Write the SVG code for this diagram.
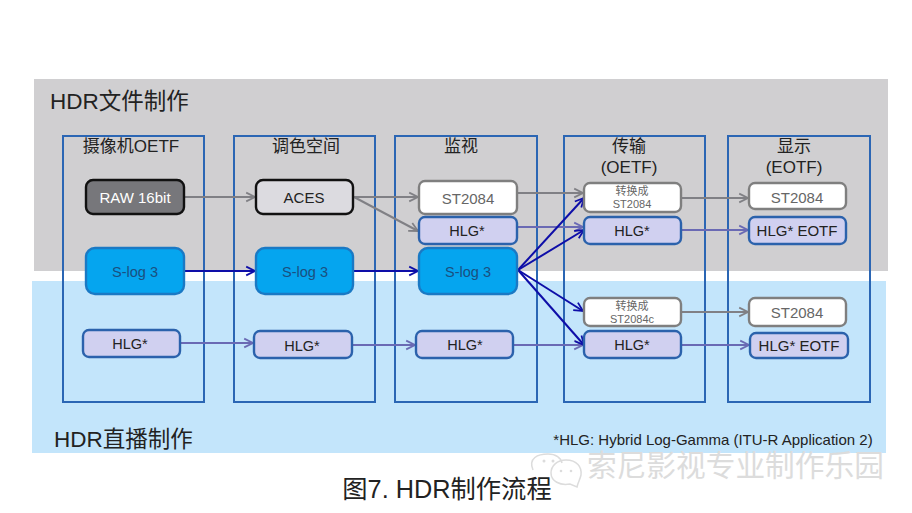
<svg xmlns="http://www.w3.org/2000/svg" width="912" height="513" viewBox="0 0 912 513">
<style>
text{font-family:"Liberation Sans","Noto Sans CJK SC",sans-serif;text-anchor:middle;fill:#222}
.frame{fill:none;stroke:#2b66b4;stroke-width:2}
.n{stroke-width:2.4}
.gray{fill:#77777b;stroke:#111}
.aces{fill:#dcdbe0;stroke:#111}
.blue{fill:#05a5ef;stroke:#1a79c4}
.hlg{fill:#d0d0f0;stroke:#2b62ac}
.white{fill:#fff;stroke:#7f7f7f}
.c{fill:none;stroke-width:2}
.cg{stroke:#808085;marker-end:url(#ag)}
.cb{stroke:#0e0ea8;marker-end:url(#ab)}
.cp{stroke:#6a6ab4;marker-end:url(#ap)}
.t14{font-size:14.5px}
.t15{font-size:15px}
.eotf{font-size:15px}
.head{font-size:17px}
.title{font-size:22.5px;text-anchor:start}
.small{font-size:11px;fill:#666}
.grey{fill:#666}
.wm{font-size:29.7px;fill:#dcdcdc;text-anchor:start}
</style>
<defs>
<marker id="ag" viewBox="0 0 10 10" refX="9" refY="5" markerWidth="5.5" markerHeight="6.5" orient="auto" markerUnits="strokeWidth"><path d="M1 1L9 5L1 9" fill="none" stroke="#808085" stroke-width="1.6"/></marker>
<marker id="ab" viewBox="0 0 10 10" refX="9" refY="5" markerWidth="5.5" markerHeight="6.5" orient="auto" markerUnits="strokeWidth"><path d="M1 1L9 5L1 9" fill="none" stroke="#0e0ea8" stroke-width="1.6"/></marker>
<marker id="ap" viewBox="0 0 10 10" refX="9" refY="5" markerWidth="5.5" markerHeight="6.5" orient="auto" markerUnits="strokeWidth"><path d="M1 1L9 5L1 9" fill="none" stroke="#6a6ab4" stroke-width="1.6"/></marker>
</defs>
<rect width="912" height="513" fill="#fff"/>
<g id="panels">
<rect x="34" y="79" width="854" height="192" fill="#d0cfd1"/>
<rect x="32" y="281" width="854" height="172" fill="#c3e5fb"/>
<text class="title" x="50" y="109">HDR文件制作</text>
<text class="title" x="54" y="447">HDR直播制作</text>
</g>
<g id="columns">
<g id="col-camera"><rect class="frame" x="63" y="136" width="141" height="266"/><text class="head" x="131" y="152">摄像机OETF</text></g>
<g id="col-grading"><rect class="frame" x="234" y="136" width="141" height="266"/><text class="head" x="306" y="152">调色空间</text></g>
<g id="col-monitor"><rect class="frame" x="395" y="136" width="142" height="266"/><text class="head" x="461" y="152">监视</text></g>
<g id="col-transmit"><rect class="frame" x="564" y="136" width="141" height="266"/><text class="head" x="629" y="152">传输</text><text class="head" x="629" y="173">(OETF)</text></g>
<g id="col-display"><rect class="frame" x="728" y="136" width="142" height="266"/><text class="head" x="794" y="152">显示</text><text class="head" x="794" y="173">(EOTF)</text></g>
</g>
<g id="connectors">
<path class="c cg" d="M185 197H255"/>
<path class="c cg" d="M354 197H418"/>
<path class="c cg" d="M354 197L418 231"/>
<path class="c cg" d="M518 193H583"/>
<path class="c cp" d="M518 227H583"/>
<path class="c cg" d="M682 198H748"/>
<path class="c cp" d="M682 230H748"/>
<path class="c cg" d="M682 312H748"/>
<path class="c cp" d="M682 345H749"/>
<path class="c cp" d="M181 343H253"/>
<path class="c cp" d="M353 345H415"/>
<path class="c cp" d="M514 345H583"/>
<path class="c cb" d="M185 271H255"/>
<path class="c cb" d="M354 271H418"/>
<path class="c cb" d="M518 270L584 198"/>
<path class="c cb" d="M518 270L584 230"/>
<path class="c cb" d="M518 270L583 311"/>
<path class="c cb" d="M518 270L584 345"/>
</g>
<g id="n-raw"><rect class="n gray" x="86" y="180" width="98" height="34" rx="7"/><text class="t15" x="135" y="203" style="fill:#fff">RAW 16bit</text></g>
<g id="n-slog-cam"><rect class="n blue" x="86" y="248" width="98" height="46" rx="9"/><text class="t14" x="135" y="277" style="fill:#1a4f80">S-log 3</text></g>
<g id="n-hlg-cam"><rect class="n hlg" x="83" y="330" width="97" height="27" rx="6"/><text class="t14" x="130" y="349">HLG*</text></g>
<g id="n-aces"><rect class="n aces" x="256" y="180" width="97" height="34" rx="7"/><text class="t15" x="304" y="203">ACES</text></g>
<g id="n-slog-grade"><rect class="n blue" x="256" y="248" width="97" height="46" rx="9"/><text class="t14" x="305" y="277" style="fill:#1a4f80">S-log 3</text></g>
<g id="n-hlg-grade"><rect class="n hlg" x="254" y="331" width="98" height="27" rx="6"/><text class="t14" x="302" y="351">HLG*</text></g>
<g id="n-st-mon"><rect class="n white" x="419" y="181" width="98" height="33" rx="6"/><text class="t15 grey" x="468" y="204">ST2084</text></g>
<g id="n-hlg-mon"><rect class="n hlg" x="419" y="217" width="98" height="27" rx="6"/><text class="t14" x="467" y="236">HLG*</text></g>
<g id="n-slog-mon"><rect class="n blue" x="419" y="248" width="98" height="46" rx="9"/><text class="t14" x="468" y="277" style="fill:#1a4f80">S-log 3</text></g>
<g id="n-hlg-mon2"><rect class="n hlg" x="416" y="331" width="97" height="27" rx="6"/><text class="t14" x="465" y="350">HLG*</text></g>
<g id="n-conv1"><rect class="n white" x="584" y="183" width="97" height="29" rx="6"/><text class="small" x="632" y="195">转换成</text><text class="small" x="632" y="208">ST2084</text></g>
<g id="n-hlg-tx1"><rect class="n hlg" x="584" y="217" width="97" height="27" rx="6"/><text class="t14" x="632" y="236">HLG*</text></g>
<g id="n-conv2"><rect class="n white" x="584" y="298" width="97" height="28" rx="6"/><text class="small" x="632" y="310">转换成</text><text class="small" x="632" y="323">ST2084c</text></g>
<g id="n-hlg-tx2"><rect class="n hlg" x="584" y="331" width="97" height="27" rx="6"/><text class="t14" x="632" y="350">HLG*</text></g>
<g id="n-st-d1"><rect class="n white" x="749" y="183" width="97" height="26" rx="6"/><text class="t15 grey" x="797" y="203">ST2084</text></g>
<g id="n-hlg-d1"><rect class="n hlg" x="749" y="217" width="97" height="27" rx="6"/><text class="eotf" x="797" y="236">HLG* EOTF</text></g>
<g id="n-st-d2"><rect class="n white" x="749" y="298" width="97" height="28" rx="6"/><text class="t15 grey" x="797" y="318">ST2084</text></g>
<g id="n-hlg-d2"><rect class="n hlg" x="750" y="333" width="98" height="25" rx="6"/><text class="eotf" x="799" y="351">HLG* EOTF</text></g>
<g id="notes">
<text x="713" y="445" font-size="15">*HLG: Hybrid Log-Gamma (ITU-R Application 2)</text>
<g fill="none" stroke="#dcdcdc" stroke-width="1.5">
<path d="M533 470C528 458 538 454 548 454C556 454 561 458 562 463"/>
<path d="M566 460C577 460 582 467 581 475C580 480 578 482 577 487L570 484C560 486 551 481 551 473C551 466 557 460 566 460Z"/>
</g>
<g fill="#dcdcdc"><circle cx="544" cy="461" r="1.5"/><circle cx="553" cy="461" r="1.5"/><circle cx="561" cy="471" r="1.3"/><circle cx="571" cy="471" r="1.3"/></g>
<text class="wm" x="587" y="476">索尼影视专业制作乐园</text>
<text x="447" y="498" font-size="25.3">图7. HDR制作流程</text>
</g>
</svg>
